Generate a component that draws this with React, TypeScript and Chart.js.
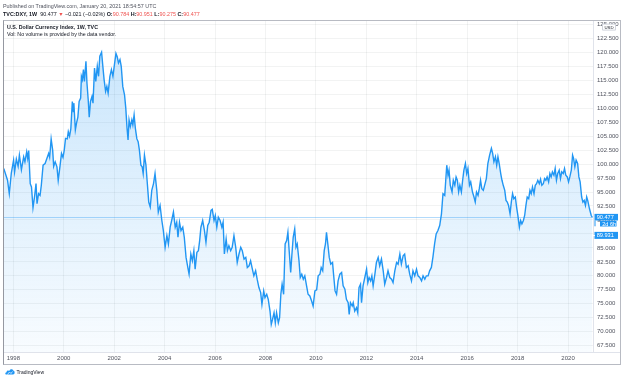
import React, { useEffect, useRef } from "react";
import { Chart, registerables } from "chart.js";

Chart.register(...registerables);

// Time of each sampled close, in decimal years
const times: number[] = [
  1997.62, 1997.77, 1997.84, 1997.92, 1998.01, 1998.05, 1998.12, 1998.19, 1998.24, 1998.32,
  1998.41, 1998.46, 1998.53, 1998.57, 1998.61, 1998.67, 1998.72, 1998.78, 1998.84, 1998.90,
  1998.94, 1999.00, 1999.06, 1999.11, 1999.18, 1999.26, 1999.33, 1999.40, 1999.44, 1999.50,
  1999.56, 1999.60, 1999.66, 1999.73, 1999.78, 1999.85, 1999.91, 1999.97, 2000.02, 2000.07,
  2000.14, 2000.18, 2000.23, 2000.28, 2000.34, 2000.38, 2000.40, 2000.46, 2000.51, 2000.56,
  2000.61, 2000.67, 2000.70, 2000.74, 2000.78, 2000.82, 2000.88, 2000.92, 2000.97, 2001.01,
  2001.06, 2001.12, 2001.16, 2001.22, 2001.27, 2001.33, 2001.38, 2001.43, 2001.50, 2001.55,
  2001.60, 2001.66, 2001.71, 2001.76, 2001.83, 2001.89, 2001.95, 2002.01, 2002.07, 2002.12,
  2002.17, 2002.23, 2002.28, 2002.34, 2002.41, 2002.46, 2002.51, 2002.55, 2002.59, 2002.64,
  2002.70, 2002.74, 2002.79, 2002.84, 2002.90, 2002.95, 2003.00, 2003.06, 2003.11, 2003.15,
  2003.20, 2003.26, 2003.31, 2003.37,
  2003.43, 2003.49, 2003.56, 2003.62, 2003.69, 2003.75, 2003.82, 2003.89, 2003.95, 2004.02,
  2004.09, 2004.15, 2004.22, 2004.28, 2004.35, 2004.42, 2004.48, 2004.53, 2004.59, 2004.65,
  2004.72, 2004.78, 2004.85, 2004.92, 2004.97, 2005.04, 2005.10, 2005.16, 2005.21, 2005.28,
  2005.34, 2005.39, 2005.44, 2005.51, 2005.58, 2005.64, 2005.71, 2005.77, 2005.84, 2005.89,
  2005.96, 2006.01, 2006.07, 2006.13, 2006.20, 2006.27, 2006.32, 2006.37, 2006.44, 2006.49,
  2006.55, 2006.62, 2006.68, 2006.75, 2006.82, 2006.88, 2006.95, 2007.02, 2007.08, 2007.15,
  2007.22, 2007.28, 2007.35, 2007.41, 2007.48, 2007.54, 2007.61, 2007.67, 2007.74, 2007.81,
  2007.86, 2007.93, 2007.98, 2008.05, 2008.11, 2008.18, 2008.23, 2008.28, 2008.34, 2008.39,
  2008.44, 2008.51, 2008.56, 2008.61, 2008.66, 2008.72, 2008.78, 2008.84, 2008.89, 2008.94,
  2009.00, 2009.05, 2009.10, 2009.16,
  2009.21, 2009.26, 2009.33, 2009.38, 2009.44, 2009.50, 2009.56, 2009.63, 2009.69, 2009.76,
  2009.83, 2009.89, 2009.96, 2010.03, 2010.09, 2010.16, 2010.21, 2010.27, 2010.33, 2010.38,
  2010.42, 2010.48, 2010.53, 2010.59, 2010.66, 2010.70, 2010.76, 2010.82, 2010.88, 2010.95,
  2011.02, 2011.08, 2011.15, 2011.21, 2011.28, 2011.32, 2011.37, 2011.44, 2011.48, 2011.54,
  2011.61, 2011.66, 2011.71, 2011.77, 2011.81, 2011.87, 2011.94, 2012.01, 2012.06, 2012.11,
  2012.17, 2012.22, 2012.27, 2012.34, 2012.40, 2012.47, 2012.53, 2012.60, 2012.67, 2012.73,
  2012.80, 2012.86, 2012.93, 2013.00, 2013.06, 2013.13, 2013.20, 2013.26, 2013.33, 2013.39,
  2013.46, 2013.52, 2013.59, 2013.66, 2013.72, 2013.79, 2013.85, 2013.92, 2013.99, 2014.05,
  2014.12, 2014.19, 2014.25, 2014.32, 2014.38, 2014.45, 2014.51, 2014.58, 2014.64, 2014.71,
  2014.77, 2014.84, 2014.91, 2014.98,
  2015.04, 2015.11, 2015.15, 2015.19, 2015.24, 2015.28, 2015.33, 2015.40, 2015.45, 2015.51,
  2015.56, 2015.61, 2015.66, 2015.71, 2015.77, 2015.82, 2015.87, 2015.93, 2015.98, 2016.03,
  2016.09, 2016.14, 2016.21, 2016.27, 2016.32, 2016.37, 2016.43, 2016.48, 2016.53, 2016.58,
  2016.64, 2016.69, 2016.76, 2016.82, 2016.89, 2016.96, 2017.01, 2017.06, 2017.12, 2017.17,
  2017.22, 2017.27, 2017.33, 2017.38, 2017.43, 2017.49, 2017.54, 2017.59, 2017.64, 2017.70,
  2017.75, 2017.80, 2017.85, 2017.91, 2017.96, 2018.01, 2018.07, 2018.12, 2018.17, 2018.23,
  2018.28, 2018.33, 2018.38, 2018.44, 2018.49, 2018.54, 2018.59, 2018.65, 2018.70, 2018.75,
  2018.80, 2018.86, 2018.91, 2018.96, 2019.02, 2019.07, 2019.12, 2019.17, 2019.23, 2019.28,
  2019.33, 2019.38, 2019.44, 2019.49, 2019.54, 2019.59, 2019.65, 2019.70, 2019.75, 2019.81,
  2019.86, 2019.91, 2019.97, 2020.02, 2020.07, 2020.13, 2020.18, 2020.22, 2020.27, 2020.32,
  2020.38, 2020.43, 2020.48, 2020.54, 2020.59, 2020.64, 2020.69, 2020.74, 2020.78, 2020.85,
  2020.92, 2020.96,
];

// DXY weekly closes
const closes: number[] = [
  99.2, 97.1, 94.7, 98.4, 100.7, 98.6, 100.9, 99.6, 101.6, 99.0,
  101.3, 100.4, 102.2, 101.0, 102.4, 96.5, 95.9, 92.2, 94.1, 96.5,
  92.9, 94.7, 94.4, 96.2, 99.8, 100.1, 101.0, 101.9, 101.2, 104.5,
  102.5, 99.6, 100.4, 99.5, 97.1, 99.6, 101.9, 101.2, 102.5, 104.6,
  104.5, 105.8, 105.0, 106.3, 111.2, 109.4, 110.9, 106.1, 107.4, 108.4,
  111.2, 111.8, 115.7, 115.1, 116.9, 114.8, 118.4, 114.5, 111.5, 108.4,
  111.2, 112.1, 110.9, 117.2, 114.8, 117.5, 115.7, 119.3, 120.0, 117.5,
  115.1, 113.0, 113.9, 112.7, 115.7, 116.9, 115.7, 117.8, 119.8, 119.2,
  118.1, 118.7, 117.5, 113.9, 112.4, 110.0, 106.4, 104.3, 107.9, 106.7,
  107.9, 107.0, 108.8, 106.4, 104.5, 104.0, 102.5, 99.8, 99.5, 98.3,
  101.6, 99.8, 96.8, 93.2,
  92.3, 95.3, 96.5, 98.3, 95.3, 91.4, 92.6, 89.9, 88.1, 85.1,
  87.2, 85.7, 88.7, 89.9, 91.4, 88.7, 89.6, 86.9, 89.6, 88.1,
  88.7, 86.9, 83.3, 81.5, 80.3, 83.9, 82.7, 84.5, 81.2, 84.2,
  84.5, 86.3, 88.7, 89.9, 88.1, 86.0, 89.0, 89.6, 91.7, 91.9,
  89.9, 90.8, 88.7, 90.5, 89.9, 88.7, 89.6, 83.9, 86.6, 84.5,
  85.4, 84.5, 85.1, 87.2, 85.1, 82.4, 83.9, 85.1, 84.5, 83.0,
  83.3, 81.5, 81.8, 82.7, 81.2, 80.0, 80.9, 79.4, 77.9, 77.0,
  74.9, 77.3, 76.1, 76.7, 75.8, 73.7, 71.3, 72.2, 73.4, 71.6,
  73.4, 71.6, 72.5, 76.7, 78.5, 76.7, 85.7, 86.3, 87.8, 84.5,
  80.6, 83.9, 86.9, 88.4,
  85.1, 85.7, 82.7, 79.7, 80.3, 79.4, 80.0, 78.2, 76.7, 76.4,
  75.5, 74.6, 77.3, 77.5, 80.0, 80.3, 81.5, 80.9, 84.5, 85.7,
  87.8, 85.4, 83.3, 82.1, 82.4, 80.3, 77.3, 76.7, 79.1, 80.3,
  80.6, 78.2, 77.6, 75.8, 75.2, 73.1, 75.2, 74.6, 75.2, 73.7,
  74.3, 73.4, 77.9, 78.5, 75.2, 78.2, 79.7, 81.2, 78.8, 79.7,
  79.1, 80.0, 78.2, 80.3, 82.4, 83.3, 81.8, 83.0, 80.9, 78.5,
  79.7, 80.9, 79.7, 79.4, 78.8, 80.9, 82.4, 82.1, 83.9, 82.1,
  83.6, 83.9, 81.5, 81.8, 80.3, 79.1, 80.9, 80.0, 81.2, 80.0,
  79.7, 79.1, 80.0, 79.4, 80.0, 80.0, 80.9, 81.5, 83.3, 85.8,
  87.5, 88.1, 89.0, 91.1,
  94.7, 94.4, 97.1, 99.8, 98.0, 98.9, 96.2, 95.0, 97.1, 96.2,
  97.7, 97.1, 95.0, 96.2, 95.0, 97.1, 98.9, 100.1, 98.3, 99.2,
  96.2, 96.8, 95.0, 94.1, 93.2, 95.0, 94.4, 95.6, 97.1, 95.6,
  95.3, 96.2, 97.4, 100.1, 101.6, 102.8, 101.9, 100.4, 101.3, 99.8,
  101.3, 100.1, 98.3, 97.1, 96.2, 95.3, 93.5, 93.2, 92.6, 91.1,
  93.2, 94.7, 93.8, 94.1, 92.3, 90.8, 88.7, 89.9, 89.3, 89.9,
  90.8, 92.6, 94.1, 93.8, 95.3, 94.7, 95.9, 94.7, 96.2, 96.5,
  97.1, 96.5, 97.3, 96.2, 96.5, 97.4, 97.1, 97.7, 96.8, 98.3,
  97.7, 98.6, 98.0, 99.2, 97.1, 98.3, 98.9, 97.4, 98.6, 98.3,
  99.2, 98.0, 97.7, 96.8, 97.7, 98.9, 101.6, 101.0, 99.5, 100.7,
  100.1, 97.7, 96.8, 94.1, 93.2, 93.5, 92.6, 94.1, 93.5, 92.0,
  90.8, 90.477,
];

const yearTicks: number[] = [1998, 2000, 2002, 2004, 2006, 2008, 2010, 2012, 2014, 2016, 2018, 2020];
const priceTicks: number[] = [
  67.5, 70, 72.5, 75, 77.5, 80, 82.5, 85, 87.5, 90, 92.5, 95, 97.5, 100,
  102.5, 105, 107.5, 110, 112.5, 115, 117.5, 120, 122.5, 125,
];
const lastPrice = 90.477;
const lowPrice = 89.931;
const countdown = "2d 6h";

const FONT = '"Liberation Sans", Arial, sans-serif';
const BLUE = "#2196f3";

const overlay = {
  id: "overlay",
  afterDatasetsDraw(chart: any) {
    const { ctx, chartArea: a, scales } = chart;
    const yp = Math.round(scales.y.getPixelForValue(lastPrice)) + 0.5;
    ctx.save();
    ctx.strokeStyle = "rgba(33,150,243,0.35)";
    ctx.lineWidth = 1;
    ctx.beginPath();
    ctx.moveTo(a.left, yp);
    ctx.lineTo(a.right, yp);
    ctx.stroke();
    ctx.restore();
  },
  afterDraw(chart: any) {
    const { ctx, chartArea: a, scales } = chart;
    const y = scales.y;
    const x = scales.x;
    ctx.save();
    // separator through the axis corner
    ctx.strokeStyle = "#e0e3eb";
    ctx.lineWidth = 1;
    ctx.beginPath();
    ctx.moveTo(a.right, a.bottom + 0.5);
    ctx.lineTo(y.right, a.bottom + 0.5);
    ctx.stroke();
    // frame
    ctx.strokeStyle = "#b8bbc3";
    ctx.strokeRect(a.left - 0.5, a.top - 0.5, y.right - a.left + 1, x.bottom - a.top + 1);
    ctx.strokeStyle = "#9598a1";
    ctx.beginPath();
    ctx.moveTo(a.left - 0.5, a.top - 0.5);
    ctx.lineTo(a.left - 0.5, x.bottom + 0.5);
    ctx.stroke();

    // price labels
    const yp = y.getPixelForValue(lastPrice);
    const lx = y.left + 1.5;
    const rx = y.right - 2;
    ctx.textBaseline = "middle";
    ctx.textAlign = "left";
    const box = (x0: number, top: number, x1: number, h: number, text: string) => {
      ctx.fillStyle = BLUE;
      ctx.fillRect(x0, top, x1 - x0, h);
      ctx.fillStyle = "#ffffff";
      ctx.font = `5.6px ${FONT}`;
      ctx.fillText(text, x0 + 2.2, top + h / 2 + 0.3);
    };
    box(lx, yp - 3.4, rx, 6.6, lastPrice.toFixed(3));
    box(lx + 5.5, yp + 3.6, rx - 1.5, 5.6, countdown);
    ctx.fillStyle = BLUE;
    ctx.fillRect(lx, yp + 3.2, 1, 5.8);
    box(lx, yp + 14.6, rx, 7, lowPrice.toFixed(3));
    ctx.fillRect(a.right - 1, yp + 17.8, 3, 1);

    // currency button
    const ux = y.left + 9;
    const uy = a.top + 2.6;
    ctx.fillStyle = "#ffffff";
    ctx.strokeStyle = "#d1d4dc";
    ctx.beginPath();
    ctx.rect(ux + 0.5, uy + 0.5, 13, 6);
    ctx.fill();
    ctx.stroke();
    ctx.fillStyle = "#131722";
    ctx.font = `4.3px ${FONT}`;
    ctx.textAlign = "center";
    ctx.fillText("USD", ux + 7, uy + 3.8);
    ctx.restore();
  },
};

export default function App() {
  const ref = useRef<HTMLCanvasElement>(null);

  useEffect(() => {
    document.body.style.margin = "0";
    const canvas = ref.current!;
    const chart = new Chart(canvas, {
      type: "line",
      data: {
        datasets: [
          {
            data: times.map((t, i) => ({ x: t, y: closes[i] })),
            borderColor: BLUE,
            borderWidth: 1.4,
            pointRadius: 0,
            tension: 0,
            fill: "start",
            backgroundColor: (c: any) => {
              const area = c.chart.chartArea;
              if (!area) return "rgba(33,150,243,0.12)";
              const g = c.chart.ctx.createLinearGradient(0, area.top, 0, area.bottom);
              g.addColorStop(0, "rgba(33,150,243,0.26)");
              g.addColorStop(1, "rgba(33,150,243,0.03)");
              return g;
            },
          },
        ],
      },
      options: {
        animation: false,
        responsive: false,
        devicePixelRatio: 1,
        layout: { padding: { left: 4, top: 21, right: 4, bottom: 16 } },
        plugins: { legend: { display: false }, tooltip: { enabled: false } },
        scales: {
          x: {
            type: "linear",
            min: 1997.63,
            max: 2020.99,
            afterBuildTicks: (s: any) => {
              s.ticks = yearTicks.map((v) => ({ value: v }));
            },
            afterFit: (s: any) => {
              s.height = 12;
            },
            ticks: {
              autoSkip: false,
              maxRotation: 0,
              padding: 3,
              color: "#50535e",
              font: { size: 6, family: FONT },
              callback: (v: any) => String(v),
            },
            grid: { color: "rgba(42,46,57,0.06)", drawTicks: false },
            border: { color: "#e0e3eb" },
          },
          y: {
            position: "right",
            min: 66.37,
            max: 125.6,
            afterBuildTicks: (s: any) => {
              s.ticks = priceTicks.map((v) => ({ value: v }));
            },
            afterFit: (s: any) => {
              s.width = 27;
            },
            ticks: {
              padding: 4,
              color: "#50535e",
              font: { size: 6, family: FONT },
              callback: (v: any) => Number(v).toFixed(3),
            },
            grid: { color: "rgba(42,46,57,0.06)", drawTicks: false },
            border: { color: "#e0e3eb" },
          },
        },
      },
      plugins: [overlay],
    } as any);
    return () => chart.destroy();
  }, []);

  const red = { color: "#ef5350" };
  return (
    <div
      style={{
        position: "relative",
        width: 624,
        height: 380,
        background: "#ffffff",
        overflow: "hidden",
        fontFamily: FONT,
      }}
    >
      <style>{"body{margin:0}"}</style>
      <canvas ref={ref} width={624} height={380} style={{ position: "absolute", left: 0, top: 0 }} />
      <div style={{ position: "absolute", left: 3, top: 2.5, fontSize: 5.4, lineHeight: "7px", color: "#50535e", whiteSpace: "nowrap" }}>
        Published on TradingView.com, January 20, 2021 18:54:57 UTC
      </div>
      <div style={{ position: "absolute", left: 3, top: 11, fontSize: 5.4, lineHeight: "7px", color: "#131722", whiteSpace: "nowrap" }}>
        <b>TVC:DXY, 1W</b>&nbsp;&nbsp;90.477 <span style={red}>▼</span> −0.021 (−0.02%) <b>O:</b>
        <span style={red}>90.784</span> <b>H:</b>
        <span style={red}>90.951</span> <b>L:</b>
        <span style={red}>90.275</span> <b>C:</b>
        <span style={red}>90.477</span>
      </div>
      <div style={{ position: "absolute", left: 7, top: 24.3, fontSize: 5.3, lineHeight: "7px", fontWeight: "bold", color: "#131722", whiteSpace: "nowrap" }}>
        U.S. Dollar Currency Index, 1W, TVC
      </div>
      <div style={{ position: "absolute", left: 7, top: 31.3, fontSize: 5.3, lineHeight: "7px", color: "#131722", whiteSpace: "nowrap" }}>
        Vol: No volume is provided by the data vendor.
      </div>
      <div style={{ position: "absolute", left: 5, top: 368, display: "flex", alignItems: "center", gap: 1.5, whiteSpace: "nowrap" }}>
        <svg width="10" height="7" viewBox="0 0 20 14">
          <path d="M2 13 C0 13 0 9 3 8.5 C3 5 7 4 8.5 6 C9.5 2 15 1 16.5 5 C20 5 20.5 13 16 13 Z" fill="#2196f3" />
          <path d="M5 13 L9 8 L12 11 L15 7" stroke="#ffffff" strokeWidth="1.4" fill="none" />
        </svg>
        <span style={{ fontSize: 5, color: "#131722" }}>TradingView</span>
      </div>
    </div>
  );
}
